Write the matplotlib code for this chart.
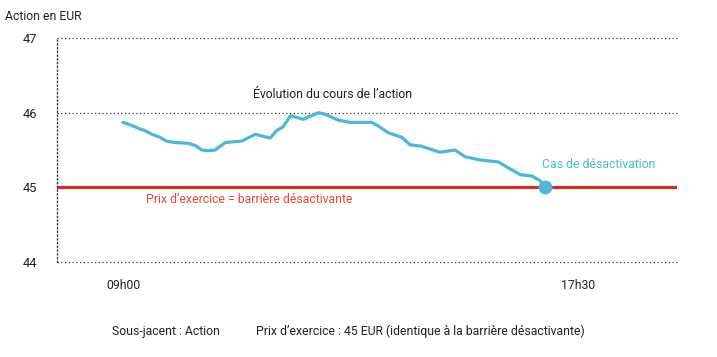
import matplotlib
matplotlib.use("Agg")
import matplotlib.pyplot as plt

# Share price (time in hours, price in EUR)
hours = [9.00, 9.16, 9.32, 9.41, 9.54, 9.69, 9.81, 9.97, 10.22, 10.35, 10.47,
         10.59, 10.72, 10.91, 11.22, 11.47, 11.75, 11.87, 11.99, 12.13, 12.37,
         12.65, 12.77, 13.02, 13.24, 13.65, 13.77, 13.96, 14.21, 14.36, 14.58,
         14.92, 15.20, 15.39, 15.64, 16.01, 16.20, 16.42, 16.64, 16.79, 16.88]
price = [45.87, 45.83, 45.78, 45.76, 45.71, 45.67, 45.62, 45.60, 45.59, 45.56, 45.50,
         45.49, 45.50, 45.60, 45.62, 45.71, 45.66, 45.76, 45.81, 45.96, 45.91,
         46.00, 45.98, 45.90, 45.87, 45.87, 45.82, 45.73, 45.67, 45.57, 45.55,
         45.47, 45.50, 45.41, 45.37, 45.34, 45.26, 45.17, 45.15, 45.09, 45.00]
strike = 45
y_ticks = [44, 45, 46, 47]
x_ticks = [9.0, 17.5]
x_labels = ["09h00", "17h30"]

BLUE = "#4BB8D8"
RED = "#E2261B"
RED_TXT = "#E8463C"
DARK = "#222222"
FS = 8.8

plt.rcParams["font.family"] = ["Roboto", "DejaVu Sans"]

fig = plt.figure(figsize=(7.17, 3.57), dpi=100)
ax = fig.add_axes([57 / 717, 1 - 262 / 357, (677 - 57) / 717, (262 - 38) / 357])

px_per_h = 53.53
x0 = 9 - (123 - 57) / px_per_h
x1 = 9 + (677 - 123) / px_per_h
ax.set_xlim(x0, x1)
ax.set_ylim(44, 47)

for s in ["top", "right", "bottom"]:
    ax.spines[s].set_visible(False)
ax.spines["left"].set_linestyle((0, (1, 2)))
ax.spines["left"].set_color("#333333")
ax.spines["left"].set_linewidth(0.9)

for v in y_ticks:
    if v != strike:
        ax.axhline(v, color="#333333", lw=0.9, ls=(0, (1, 2)), zorder=1, clip_on=False)

ax.axhline(strike, color=RED, lw=2.2, zorder=2)
ax.plot(hours, price, color=BLUE, lw=2.3, solid_capstyle="round",
        solid_joinstyle="round", zorder=3)
ax.plot(hours[-1], price[-1], "o", color=BLUE, ms=9, zorder=4)

ax.set_yticks(y_ticks)
ax.set_yticklabels([str(v) for v in y_ticks], fontsize=FS + 0.5, color=DARK)
ax.set_xticks(x_ticks)
ax.set_xticklabels(x_labels, fontsize=FS, color=DARK)
ax.tick_params(axis="y", length=0, pad=14)
ax.tick_params(axis="x", length=0, pad=12)

ax.text(9 + (333 - 123) / px_per_h, 46.24, "Évolution du cours de l\u2019action",
        ha="center", va="center", fontsize=FS, color=DARK)
ax.text(9 + (249 - 123) / px_per_h, 44.84, "Prix d\u2019exercice = barrière désactivante",
        ha="center", va="center", fontsize=FS, color=RED_TXT)
ax.text(9 + (599 - 123) / px_per_h, 45.31, "Cas de désactivation",
        ha="center", va="center", fontsize=FS, color=BLUE)

fig.text(5 / 717, 1 - 17 / 357, "Action en EUR", ha="left", va="center",
         fontsize=FS, color=DARK)
fig.text(166 / 717, 1 - 331 / 357, "Sous-jacent : Action", ha="center", va="center",
         fontsize=FS, color=DARK)
fig.text(420 / 717, 1 - 331 / 357,
         "Prix d\u2019exercice : 45 EUR (identique à la barrière désactivante)",
         ha="center", va="center", fontsize=FS, color=DARK)

fig.savefig("out.png", dpi=100)
